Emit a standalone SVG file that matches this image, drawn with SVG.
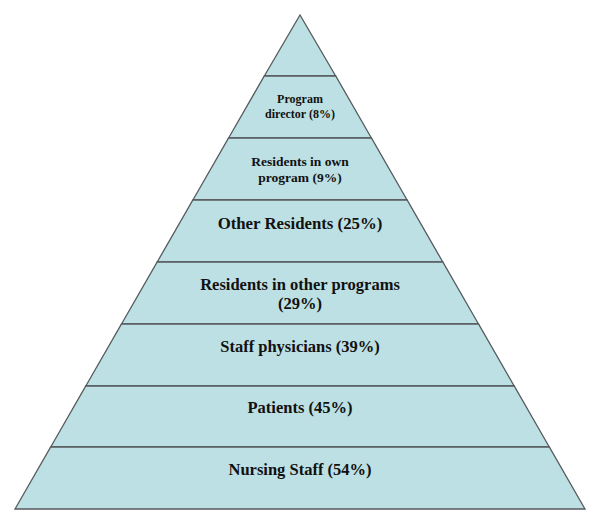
<svg xmlns="http://www.w3.org/2000/svg" width="600" height="525" viewBox="0 0 600 525">
<style>
.tier{fill:#bce0e3;stroke:#555a5c;stroke-width:1.3;}
text{font-family:"Liberation Serif","Times New Roman",serif;font-weight:bold;fill:#111;text-anchor:middle;}
</style>
<rect width="600" height="525" fill="#fff"/>
<g id="tier1"><polygon class="tier" points="300,15 335.7,76 264.3,76"/></g>
<g id="tier2"><polygon class="tier" points="264.3,76 335.7,76 371.4,138 228.6,138"/>
<text x="300" y="103" font-size="12">Program</text><text x="300" y="118" font-size="12">director (8%)</text></g>
<g id="tier3"><polygon class="tier" points="228.6,138 371.4,138 407.1,200 192.9,200"/>
<text x="300" y="166" font-size="13.5">Residents in own</text><text x="300" y="182" font-size="13.5">program (9%)</text></g>
<g id="tier4"><polygon class="tier" points="192.9,200 407.1,200 442.8,262 157.2,262"/>
<text x="300" y="229" font-size="16.8">Other Residents (25%)</text></g>
<g id="tier5"><polygon class="tier" points="157.2,262 442.8,262 478.5,324 121.5,324"/>
<text x="300" y="290" font-size="16.5">Residents in other programs</text><text x="300" y="309" font-size="16.5">(29%)</text></g>
<g id="tier6"><polygon class="tier" points="121.5,324 478.5,324 514.2,386 85.8,386"/>
<text x="300" y="352" font-size="16.5">Staff physicians (39%)</text></g>
<g id="tier7"><polygon class="tier" points="85.8,386 514.2,386 549.3,447 50.7,447"/>
<text x="300" y="413" font-size="16.5">Patients (45%)</text></g>
<g id="tier8"><polygon class="tier" points="50.7,447 549.3,447 585,509 15,509"/>
<text x="300" y="475" font-size="16.5">Nursing Staff (54%)</text></g>
<g id="connectors"/>
</svg>
